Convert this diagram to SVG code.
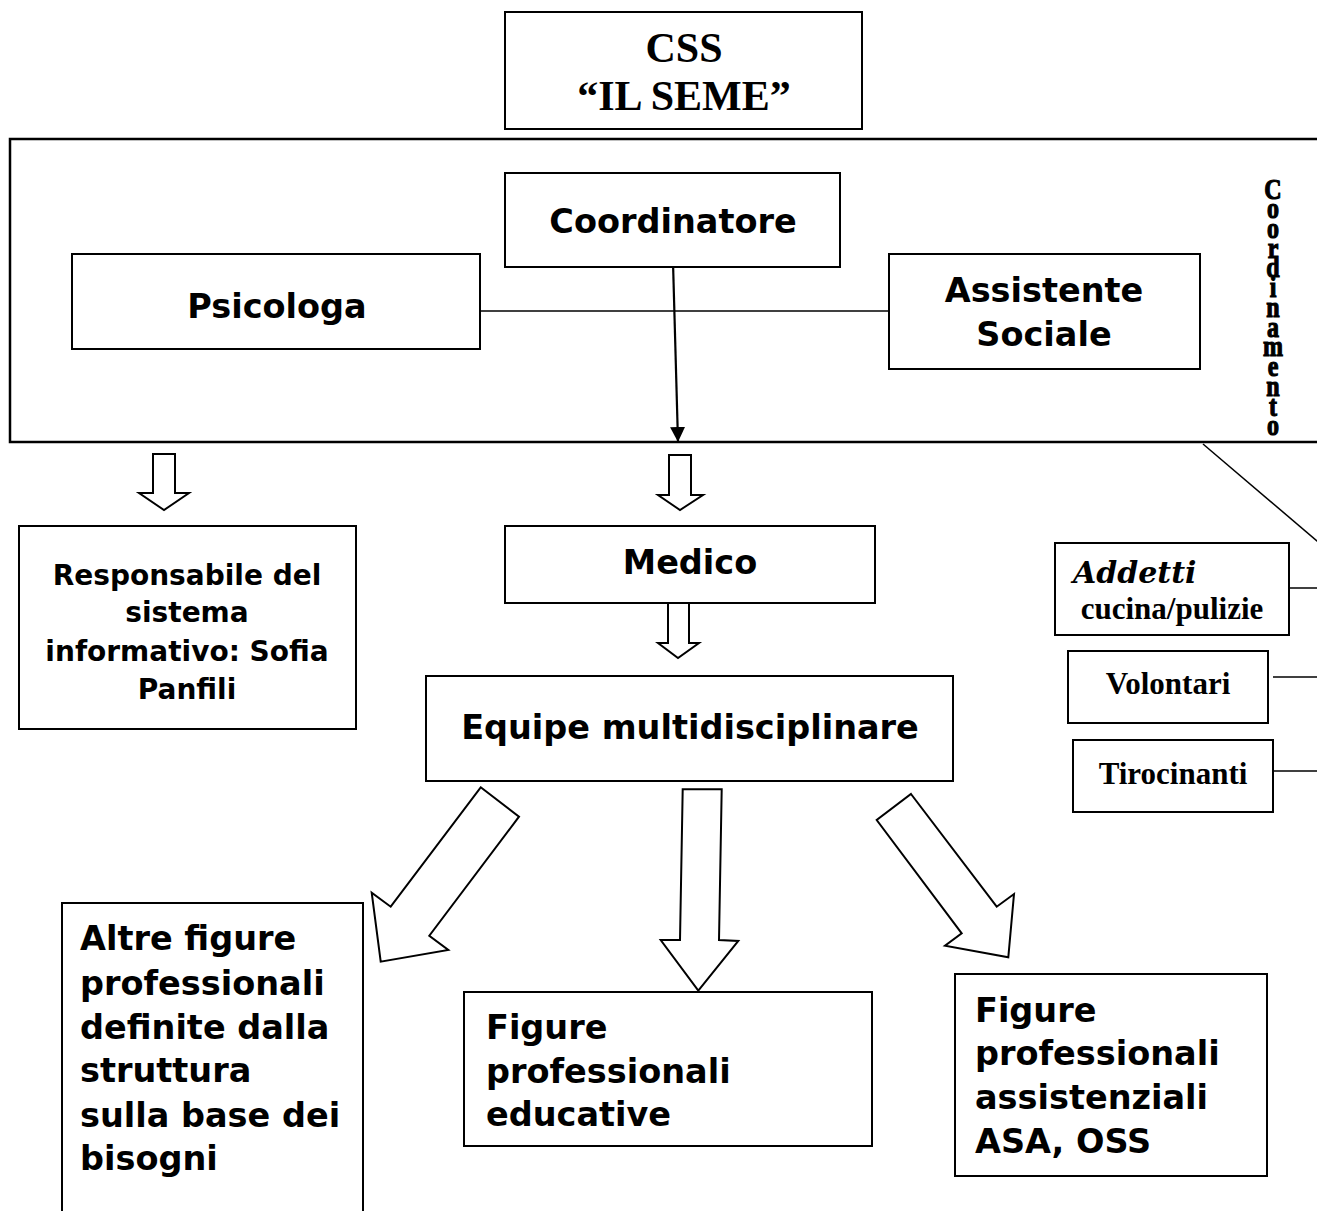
<svg xmlns="http://www.w3.org/2000/svg" width="1317" height="1211" viewBox="0 0 1317 1211">
<style>
.box{fill:#fff;stroke:#000;stroke-width:2}
.frame{fill:none;stroke:#000;stroke-width:2.5}
.ln{fill:none;stroke:#000;stroke-width:1.5}
.blk{fill:#fff;stroke:#000;stroke-width:2;stroke-linejoin:miter}
.sans{font-family:"DejaVu Sans",Verdana,sans-serif;font-weight:bold;fill:#000}
.serif{font-family:"Liberation Serif","Times New Roman",serif;font-weight:bold;fill:#000}
.vert{writing-mode:vertical-rl;text-orientation:upright;letter-spacing:-13.4px}
</style>
<defs>
<marker id="ah" viewBox="0 0 10 10" refX="10" refY="5" markerWidth="15" markerHeight="15" markerUnits="userSpaceOnUse" orient="auto">
<path d="M0,0 L10,5 L0,10 z" fill="#000"/>
</marker>
</defs>
<rect width="1317" height="1211" fill="#fff"/>

<g id="frame">
<rect class="frame" x="10" y="139" width="1330" height="303"/>
</g>

<g id="connectors">
<line class="ln" x1="480" y1="311" x2="889" y2="311"/>
<line x1="673" y1="262" x2="678" y2="442" stroke="#000" stroke-width="2.2" marker-end="url(#ah)"/>
<line class="ln" x1="1203" y1="444" x2="1330" y2="552"/>
<line class="ln" x1="1289" y1="588" x2="1317" y2="588"/>
<line class="ln" x1="1273" y1="677" x2="1317" y2="677"/>
<line class="ln" x1="1273" y1="771" x2="1317" y2="771"/>
<polygon class="blk" points="153,454 175,454 175,493 189,493 164,510 139,493 153,493"/>
<polygon class="blk" points="669,455 691,455 691,495 703,495 680,510 658,495 669,495"/>
<polygon class="blk" points="668,603 689,603 689,643 699,643 678,658 658,643 668,643"/>
<polygon class="blk" points="682.7,789.3 721.7,789.3 719,940 738.3,941 698.3,990.7 660.7,940 680,940"/>
<polygon class="blk" points="480.7,787.3 519,816.7 429.3,935.7 448.3,950 380.7,961.7 371.7,892.7 390.7,906.7"/>
<polygon class="blk" points="911,794 996.7,906.7 1014,894 1008.3,957.3 945,945.7 961.7,933.3 876.7,820"/>
</g>

<g id="css">
<rect class="box" x="505" y="12" width="357" height="117"/>
<text class="serif" font-size="42" text-anchor="middle" x="684" y="62">CSS</text>
<text class="serif" font-size="42" text-anchor="middle" x="684" y="110">“IL SEME”</text>
</g>

<g id="coordinatore">
<rect class="box" x="505" y="173" width="335" height="94"/>
<text class="sans" font-size="33.5" text-anchor="middle" x="673" y="233">Coordinatore</text>
</g>

<g id="psicologa">
<rect class="box" x="72" y="254" width="408" height="95"/>
<text class="sans" font-size="33.5" text-anchor="middle" x="277" y="318">Psicologa</text>
</g>

<g id="assistente">
<rect class="box" x="889" y="254" width="311" height="115"/>
<text class="sans" font-size="33.5" text-anchor="middle" x="1044" y="302">Assistente</text>
<text class="sans" font-size="33.5" text-anchor="middle" x="1044" y="346">Sociale</text>
</g>

<g id="coordinamento">
<text class="serif vert" font-size="30" stroke="#000" stroke-width="1.2" transform="translate(1273,172) scale(0.8,1)" x="0" y="0">Coordinamento</text>
</g>

<g id="responsabile">
<rect class="box" x="19" y="526" width="337" height="203"/>
<text class="sans" font-size="28" text-anchor="middle" x="187" y="585">Responsabile del</text>
<text class="sans" font-size="28" text-anchor="middle" x="187" y="622">sistema</text>
<text class="sans" font-size="28" text-anchor="middle" x="187" y="661">informativo: Sofia</text>
<text class="sans" font-size="28" text-anchor="middle" x="187" y="699">Panfili</text>
</g>

<g id="medico">
<rect class="box" x="505" y="526" width="370" height="77"/>
<text class="sans" font-size="33.5" text-anchor="middle" x="690" y="574">Medico</text>
</g>

<g id="equipe">
<rect class="box" x="426" y="676" width="527" height="105"/>
<text class="sans" font-size="33.5" text-anchor="middle" x="690" y="739">Equipe multidisciplinare</text>
</g>

<g id="addetti">
<rect class="box" x="1055" y="543" width="234" height="92"/>
<text font-family="'DejaVu Serif',Georgia,serif" font-weight="bold" font-style="italic" font-size="30" x="1073" y="583">Addetti</text>
<text class="serif" font-size="31" text-anchor="middle" x="1172" y="619">cucina/pulizie</text>
</g>

<g id="volontari">
<rect class="box" x="1068" y="651" width="200" height="72"/>
<text class="serif" font-size="31" text-anchor="middle" x="1168" y="694">Volontari</text>
</g>

<g id="tirocinanti">
<rect class="box" x="1073" y="740" width="200" height="72"/>
<text class="serif" font-size="31" text-anchor="middle" x="1173" y="784">Tirocinanti</text>
</g>

<g id="altre">
<rect class="box" x="62" y="903" width="301" height="320"/>
<text class="sans" font-size="33.5" x="80" y="950">Altre figure</text>
<text class="sans" font-size="33.5" x="80" y="995">professionali</text>
<text class="sans" font-size="33.5" x="80" y="1039">definite dalla</text>
<text class="sans" font-size="33.5" x="80" y="1082">struttura</text>
<text class="sans" font-size="33.5" x="80" y="1127">sulla base dei</text>
<text class="sans" font-size="33.5" x="80" y="1170">bisogni</text>
</g>

<g id="educative">
<rect class="box" x="464" y="992" width="408" height="154"/>
<text class="sans" font-size="33.5" x="486" y="1039">Figure</text>
<text class="sans" font-size="33.5" x="486" y="1083">professionali</text>
<text class="sans" font-size="33.5" x="486" y="1126">educative</text>
</g>

<g id="assistenziali">
<rect class="box" x="955" y="974" width="312" height="202"/>
<text class="sans" font-size="33.5" x="975" y="1022">Figure</text>
<text class="sans" font-size="33.5" x="975" y="1065">professionali</text>
<text class="sans" font-size="33.5" x="975" y="1109">assistenziali</text>
<text class="sans" font-size="33.5" x="975" y="1153">ASA, OSS</text>
</g>
</svg>
